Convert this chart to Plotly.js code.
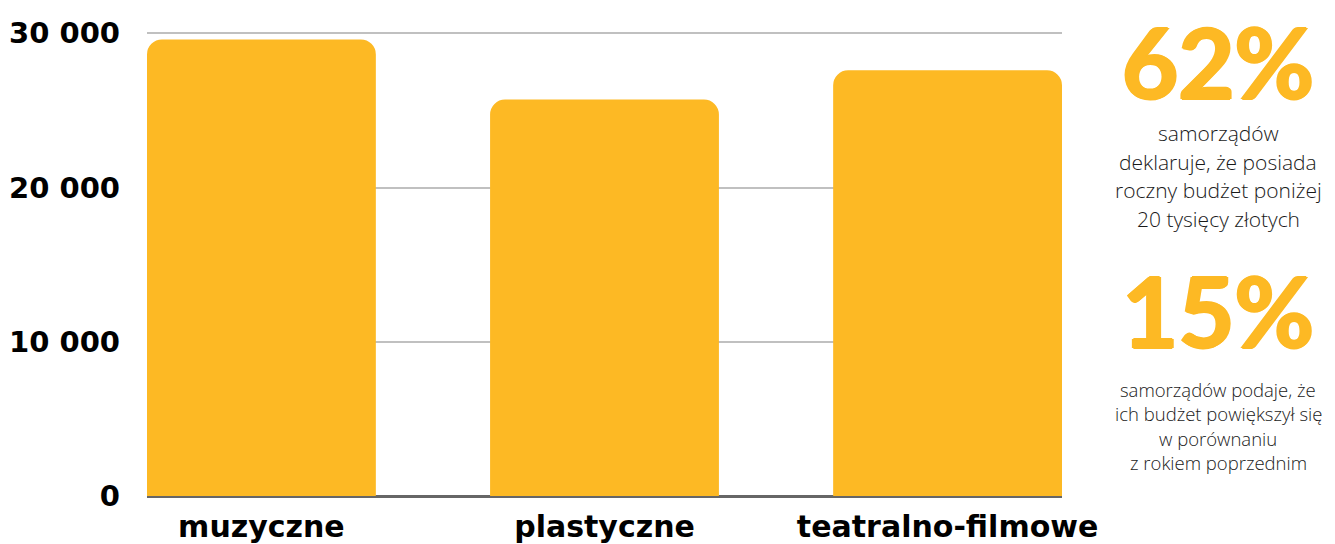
<!DOCTYPE html>
<html>
<head>
<meta charset="utf-8">
<script src="https://cdn.plot.ly/plotly-3.0.1.min.js"></script>
<style>html,body{margin:0;padding:0;background:#fff;}#chart{width:1335px;height:544px;}</style>
</head>
<body>
<div id="chart"></div>
<script>
const categories = ["muzyczne", "plastyczne", "teatralno-filmowe"];
const values = [29600, 25700, 27600];
const yTickVals = [0, 10000, 20000, 30000];
const yTickText = ["0", "10 000", "20 000", "30 000"];
const stat1 = "62%";
const stat1Lines = ["samorządów", "deklaruje, że posiada", "roczny budżet poniżej", "20 tysięcy złotych"];
const stat2 = "15%";
const stat2Lines = ["samorządów podaje, że", "ich budżet powiększył się", "w porównaniu", "z rokiem poprzednim"];

const orange = "#FDB924";
const boldFont = "'DejaVu Sans', sans-serif";
const TOP = 31, BOT = 496;
const YMAX = 30000 * (BOT - TOP) / (BOT - 33.3);

const annotations = [];
function py(pix) { return (BOT - pix) / (BOT - TOP); }
function bigStat(text, y) {
  annotations.push({xref: "paper", yref: "paper", x: 1.1705, y: y, xanchor: "center", yanchor: "middle",
    text: "<b>" + text + "</b>", showarrow: false,
    font: {family: "Lato, sans-serif", size: 97, color: orange, weight: 900,
      shadow: "1.5px 0 0 #FDB924, -1.5px 0 0 #FDB924, 0 1px 0 #FDB924, 0 -1px 0 #FDB924"}});
}
function lines(arr, y0, dy, size) {
  arr.forEach((t, i) => {
    annotations.push({xref: "paper", yref: "paper", x: 1.1705, y: py(y0 + i * dy), xanchor: "center", yanchor: "middle",
      text: t, showarrow: false,
      font: {family: "'Open Sans', sans-serif", size: size, color: "#1a1a1a", weight: 300}});
  });
}
bigStat(stat1, py(62));
lines(stat1Lines, 133, 28.5, 21);
bigStat(stat2, py(310));
lines(stat2Lines, 389, 24.5, 18.5);

const data = [{
  type: "bar",
  x: categories,
  y: values,
  width: 0.667,
  marker: {color: orange, cornerradius: 15},
  hoverinfo: "x+y"
}];

const layout = {
  width: 1335, height: 544,
  margin: {l: 147, r: 273, t: TOP, b: 544 - BOT, pad: 0},
  paper_bgcolor: "#fff", plot_bgcolor: "#fff",
  showlegend: false,
  xaxis: {
    range: [-0.3335, 2.3335],
    showgrid: false, zeroline: false, showline: false,
    ticks: "", ticklabelstandoff: 10,
    tickfont: {family: boldFont, size: 30, color: "#000", weight: 700}
  },
  yaxis: {
    range: [0, YMAX],
    tickvals: yTickVals, ticktext: yTickText,
    showgrid: true, gridcolor: "#c0c0c0", gridwidth: 2,
    zeroline: true, zerolinecolor: "#666", zerolinewidth: 3,
    showline: false, ticks: "", ticklabelstandoff: 26,
    tickfont: {family: boldFont, size: 29, color: "#000", weight: 700}
  },
  annotations: annotations
};

Plotly.newPlot("chart", data, layout, {displayModeBar: false});
</script>
</body>
</html>
